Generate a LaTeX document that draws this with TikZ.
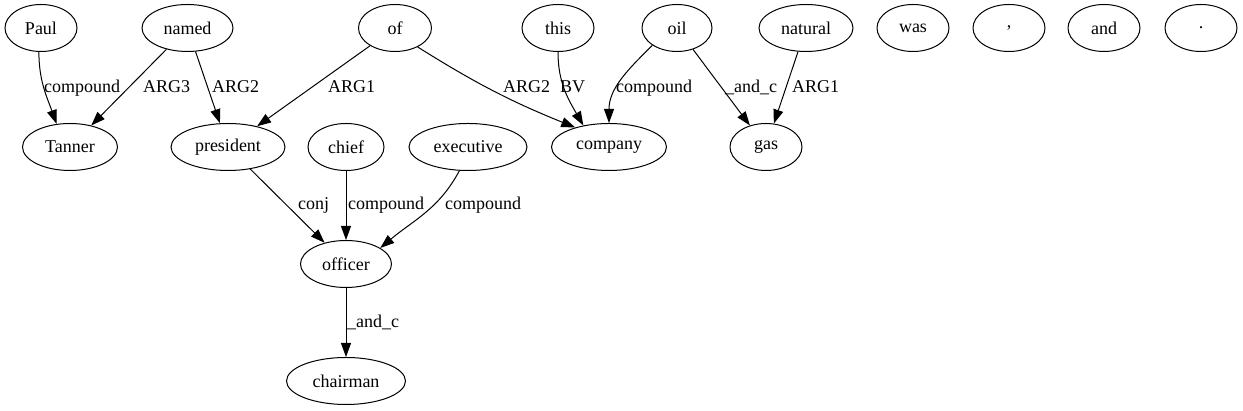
\documentclass[tikz,border=0pt]{standalone}
\usepackage{fontspec}
\setmainfont{Liberation Serif}
\usetikzlibrary{shapes.geometric,arrows.meta}
\begin{document}
\begin{tikzpicture}[x=1pt,y=1pt,
  every node/.style={font=\fontsize{18}{20}\selectfont},
  nd/.style={ellipse,draw,line width=1pt,minimum height=47pt,minimum width=#1,inner sep=0pt},
  nd/.default=72pt,
  lbl/.style={anchor=base west,inner sep=0pt},
  arr/.style={-{Triangle[length=14pt,width=10pt]},line width=1pt}]
\useasboundingbox (0,0) rectangle (1243,411);
% row 1
\node[nd] (Paul) at (41,383) {Paul};
\node[nd=91pt] (named) at (187.5,383) {named};
\node[nd=73pt] (of) at (395,383) {of};
\node[nd] (this) at (558,383) {this};
\node[nd=70pt] (oil) at (677,383) {oil};
\node[nd=94pt] (natural) at (806,383) {natural};
\node[nd] (was) at (913,383) {was};
\node[nd] (comma) at (1009,383) {,};
\node[nd] (and) at (1104,383) {and};
\node[nd] (dot) at (1201,383) {.};
% row 2
\node[nd=95pt] (Tanner) at (70,264) {Tanner};
\node[nd=114pt] (president) at (228,264) {president};
\node[nd=76pt] (chief) at (346,264) {chief};
\node[nd=118pt] (executive) at (468,264) {executive};
\node[nd=115pt] (company) at (609,264) {company};
\node[nd] (gas) at (766,264) {gas};
% row 3, 4
\node[nd=91pt] (officer) at (346,147) {officer};
\node[nd=119pt] (chairman) at (346,30) {chairman};
% edges
\draw[arr] (Paul.-95) to[out=-90,in=110] (Tanner.120);
\draw[arr] (named) -- (Tanner);
\draw[arr] (named) -- (president);
\draw[arr] (of) -- (president);
\draw[arr] (of.-40) to[bend right=5] (company.150);
\draw[arr] (this.south) to[out=-90,in=120] (company.140);
\draw[arr] (oil.-145) to[out=-135,in=90] (company.north);
\draw[arr] (oil) -- (gas);
\draw[arr] (natural) -- (gas);
\draw[arr] (president) -- (officer);
\draw[arr] (chief) -- (officer);
\draw[arr] (executive.-110) to[out=-118,in=40] (officer.25);
\draw[arr] (officer) -- (chairman);
% labels
\node[lbl] (l1) at (44,318) {compound};
\node[lbl] (l2) at (143,318) {ARG3};
\node[lbl] (l3) at (212,318) {ARG2};
\node[lbl] (l4) at (328,318) {ARG1};
\node[lbl] (l5) at (503,318) {ARG2};
\node[lbl] (l6) at (560,318) {BV};
\node[lbl] (l7) at (616,318) {compound};
\node[lbl] (l8) at (725,318) {\_and\_c};
\node[lbl] (l9) at (792,318) {ARG1};
\node[lbl] (l10) at (298,201) {conj};
\node[lbl] (l11) at (348,201) {compound};
\node[lbl] (l12) at (445,201) {compound};
\node[lbl] (l13) at (347,83) {\_and\_c};
\end{tikzpicture}
\end{document}
